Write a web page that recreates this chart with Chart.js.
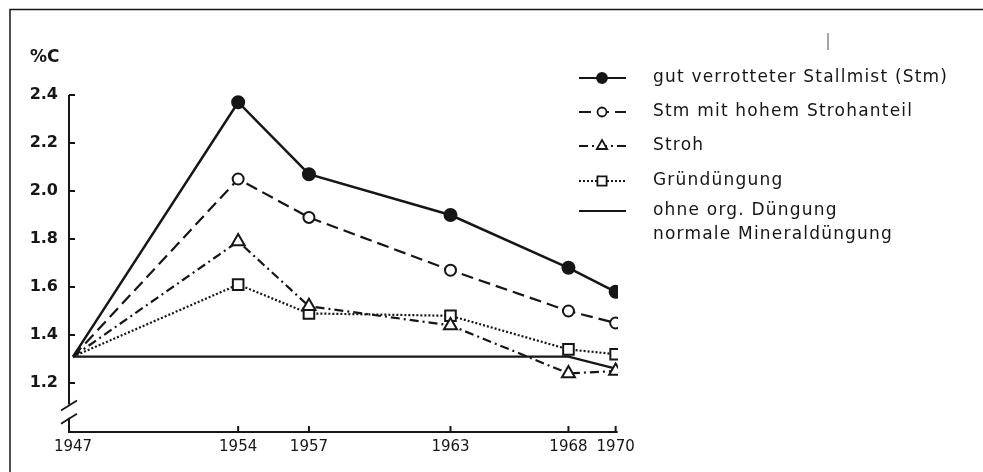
<!DOCTYPE html>
<html>
<head>
<meta charset="utf-8">
<script src="https://cdn.jsdelivr.net/npm/chart.js@4/dist/chart.umd.min.js"></script>
<style>
  html, body { margin: 0; padding: 0; background: #fff; }
  #wrap { width: 983px; height: 472px; position: relative; }
</style>
</head>
<body>
<div id="wrap"><canvas id="grafico"></canvas></div>
<script>
// Daten
const jahre = [1947, 1954, 1957, 1963, 1968, 1970];
const stmGut = [1.31, 2.37, 2.07, 1.90, 1.68, 1.58];      // gut verrotteter Stallmist
const stmStroh = [1.31, 2.05, 1.89, 1.67, 1.50, 1.45];    // Stm mit hohem Strohanteil
const stroh = [1.31, 1.79, 1.52, 1.44, 1.24, 1.25];
const gruen = [1.31, 1.61, 1.49, 1.48, 1.34, 1.32];       // Gründüngung
const ohneOrg = [1.31, 1.31, 1.31, 1.31, 1.31, 1.26];     // ohne org. Düngung
const yTicks = [1.2, 1.4, 1.6, 1.8, 2.0, 2.2, 2.4];
const legendeTexte = [
  ['gut verrotteter Stallmist (Stm)'],
  ['Stm mit hohem Strohanteil'],
  ['Stroh'],
  ['Gründüngung'],
  ['ohne org. Düngung', 'normale Mineraldüngung']
];

const INK = '#161616';
const FONT = '"DejaVu Sans", sans-serif';

function punkte(werte) {
  return jahre.map((j, i) => ({ x: j, y: werte[i] }));
}

// 1947 ist der gemeinsame Ausgangspunkt, dort kein Symbol
function serie(werte, dash, style, radius, fill, width) {
  return {
    data: punkte(werte),
    borderColor: INK,
    borderWidth: width,
    borderDash: dash,
    pointStyle: style,
    pointRadius: jahre.map((j, i) => i === 0 ? 0 : radius),
    pointBackgroundColor: fill,
    pointBorderColor: INK,
    pointBorderWidth: 2,
    tension: 0
  };
}

const datasets = [
  serie(stmGut, [], 'circle', 6, INK, 2.5),
  serie(stmStroh, [12, 6], 'circle', 5.5, '#fff', 2.2),
  serie(stroh, [9, 4, 2, 4], 'triangle', 7.5, '#fff', 2.2),
  serie(gruen, [2, 2], 'rect', 7.5, '#fff', 2.2),
  serie(ohneOrg, [], false, 0, INK, 2.2)
];

// Achsen, Bruchzeichen, Rahmen und Legende selbst zeichnen
const zeichnung = {
  id: 'zeichnung',
  afterDraw(chart) {
    const c = chart.ctx;
    const xs = chart.scales.x, ys = chart.scales.y;
    const a = chart.chartArea;
    c.save();
    c.strokeStyle = INK;
    c.fillStyle = INK;
    c.setLineDash([]);
    c.lineCap = 'butt';

    // Rahmen oben und links
    c.lineWidth = 1.5;
    c.beginPath();
    c.moveTo(10, 472); c.lineTo(10, 9.5); c.lineTo(983, 9.5);
    c.stroke();
    c.strokeStyle = '#888';
    c.lineWidth = 1.5;
    c.beginPath(); c.moveTo(828, 33); c.lineTo(828, 50); c.stroke();
    c.strokeStyle = INK;

    // y-Achse mit Bruch
    c.lineWidth = 2;
    const yTop = ys.getPixelForValue(2.4);
    const yB1 = ys.getPixelForValue(1.11);
    const yB2 = ys.getPixelForValue(1.055);
    c.beginPath();
    c.moveTo(a.left, yTop); c.lineTo(a.left, yB1);
    c.moveTo(a.left, yB2); c.lineTo(a.left, a.bottom + 1);
    c.lineTo(xs.getPixelForValue(1970) + 2, a.bottom + 1);
    c.stroke();
    c.lineWidth = 1.8;
    c.beginPath();
    c.moveTo(a.left - 8, yB1 + 6); c.lineTo(a.left + 8, yB1 - 4);
    c.moveTo(a.left - 8, yB2 + 6); c.lineTo(a.left + 8, yB2 - 4);
    c.stroke();

    // Teilstriche
    c.lineWidth = 2;
    c.beginPath();
    yTicks.forEach(v => {
      const y = ys.getPixelForValue(v);
      c.moveTo(a.left, y); c.lineTo(a.left + 6, y);
    });
    jahre.slice(1).forEach(j => {
      const x = xs.getPixelForValue(j);
      c.moveTo(x, a.bottom + 1); c.lineTo(x, a.bottom - 5);
    });
    c.stroke();

    // Einheit
    c.font = 'bold 17px ' + FONT;
    c.textAlign = 'left';
    c.textBaseline = 'middle';
    c.fillText('%C', 30, 58);

    // Legende
    const zeilen = [78, 112, 146, 181, 211];
    const radien = [5, 4.5, 6, 6.5, 0];
    c.font = '17px ' + FONT;
    c.letterSpacing = '1.2px';
    datasets.forEach((ds, i) => {
      const y = zeilen[i];
      c.strokeStyle = INK;
      c.lineWidth = 2;
      c.setLineDash(ds.borderDash);
      c.beginPath(); c.moveTo(579, y); c.lineTo(626, y); c.stroke();
      c.setLineDash([]);
      if (ds.pointStyle) {
        c.fillStyle = ds.pointBackgroundColor;
        c.lineWidth = 1.8;
        Chart.helpers.drawPoint(c, { pointStyle: ds.pointStyle, radius: radien[i], rotation: 0, borderWidth: 1.8 }, 602, y);
      }
      c.fillStyle = INK;
      legendeTexte[i].forEach((t, k) => c.fillText(t, 653, y + k * 24));
    });
    c.restore();
  }
};

new Chart(document.getElementById('grafico'), {
  type: 'line',
  data: { datasets: datasets },
  options: {
    responsive: true,
    maintainAspectRatio: false,
    animation: false,
    layout: { padding: { left: 0, right: 365, top: 95, bottom: 0 } },
    plugins: { legend: { display: false }, tooltip: { enabled: false } },
    scales: {
      x: {
        type: 'linear',
        min: 1946.83,
        max: 1970.1,
        grid: { display: false, drawTicks: false },
        border: { display: false },
        afterBuildTicks: s => { s.ticks = jahre.map(j => ({ value: j })); },
        afterFit: s => { s.height = 41; },
        ticks: {
          color: INK,
          font: { family: FONT, size: 15 },
          padding: 7,
          maxRotation: 0,
          autoSkip: false,
          callback: v => String(v)
        }
      },
      y: {
        min: 1.0,
        max: 2.4,
        grid: { display: false, drawTicks: false },
        border: { display: false },
        afterBuildTicks: s => { s.ticks = yTicks.map(v => ({ value: v })); },
        afterFit: s => { s.width = 69; },
        ticks: {
          color: INK,
          font: { family: FONT, size: 16, weight: 'bold' },
          padding: 11,
          callback: v => v.toFixed(1)
        }
      }
    }
  },
  plugins: [zeichnung]
});
</script>
</body>
</html>
